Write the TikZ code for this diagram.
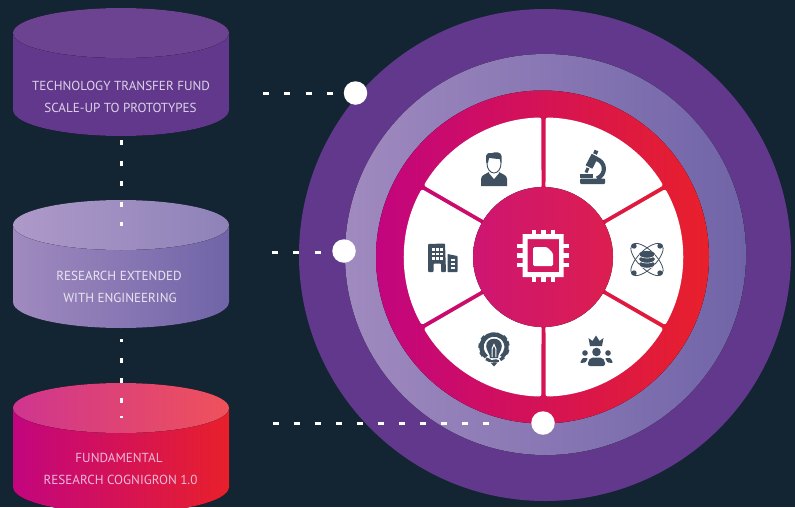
\documentclass[tikz,border=0pt]{standalone}
\usepackage{fontspec}
\setmainfont{PT Sans}
\definecolor{bg}{HTML}{132533}
\definecolor{iconc}{HTML}{3F5060}
\definecolor{purp}{HTML}{62388C}
\definecolor{purptop}{HTML}{6B4391}
\definecolor{lavL}{HTML}{A08ABF}
\definecolor{lavR}{HTML}{7064A8}
\definecolor{lavTL}{HTML}{AE99C9}
\definecolor{lavTR}{HTML}{8E82B8}
\definecolor{magL}{HTML}{C2057F}
\definecolor{magR}{HTML}{E8202B}
\definecolor{magTL}{HTML}{CF358F}
\definecolor{magTR}{HTML}{EF525A}
\definecolor{midL}{HTML}{CE1572}
\definecolor{midR}{HTML}{DC1E4F}
\tikzset{
  dashline/.style={white,line width=3pt,dash pattern=on 6pt off 15.3pt},
  vdash/.style={white,line width=3pt},
  dot/.style={circle,fill=white,minimum size=23.5pt,inner sep=0pt},
  label1/.style={font=\fontsize{13.1}{13.1}\selectfont,text=#1,inner sep=0pt,anchor=center},
  seg/.style={fill=white,rounded corners=2.2pt},
  icon/.style={fill=iconc,draw=none},
  iconw/.style={fill=white,draw=none},
  iconl/.style={draw=iconc,fill=none},
}
\newcommand{\cylinder}[6]{%
  \fill[left color=#4,right color=#5] (13,#1) -- (13,#1+#6) arc[start angle=180,end angle=0,x radius=108,y radius=26] -- (229,#1) -- cycle;
  \fill[left color=#2,right color=#3] (121,#1) ellipse[x radius=108,y radius=25];
}
\newcommand{\segment}[2]{%
  \fill[seg,shift={(543.5,257)}] (#1+1.65:69) -- (#1+0.85:139.5) arc[start angle=#1+0.85,end angle=#2-0.85,radius=139.5] -- (#2-1.65:69) -- cycle;
}
\begin{document}
\begin{tikzpicture}[x=1pt,y=-1pt]
\useasboundingbox (0,0) rectangle (795,507);
\fill[bg] (0,0) rectangle (795,507);
% cylinders
\begin{scope}
\clip (0,0) rectangle (795,507);
\cylinder{33}{purptop}{purptop}{purp}{purp}{77}
\cylinder{225}{lavTL}{lavTR}{lavL}{lavR}{77}
\cylinder{408}{magTL}{magTR}{magL}{magR}{79}
\end{scope}
\node[label1=white!78!purp] (t1a) at (121,86) {TECHNOLOGY TRANSFER FUND};
\node[label1=white!78!purp] (t1b) at (120.5,108) {SCALE-UP TO PROTOTYPES};
\node[label1=white!78!lavL] (t2a) at (119,276) {RESEARCH EXTENDED};
\node[label1=white!78!lavL] (t2b) at (120,298) {WITH ENGINEERING};
\node[label1=white!72!magL] (t3a) at (119,458) {FUNDAMENTAL};
\node[label1=white!72!magL] (t3b) at (120.5,480) {RESEARCH COGNIGRON 1.0};
% rings
\fill[purp] (545,255) circle[radius=246];
\fill[left color=lavL,right color=lavR] (545.5,254.5) circle[radius=200.5];
\fill[left color=magL,right color=magR] (542.5,257) circle[radius=166.5];
\segment{-30}{30}\segment{30}{90}\segment{90}{150}\segment{150}{210}\segment{210}{270}\segment{270}{330}
\fill[left color=midL,right color=midR] (543,257) circle[radius=70];
% chip
\fill[white,even odd rule] (522.5,234) rectangle (563.5,277) (527.5,239) rectangle (559,272);
\foreach \d in {-9.5,0,9.5}{
  \fill[white] (543.5+\d-2.2,229.5) rectangle (543.5+\d+2.2,234.5);
  \fill[white] (543.5+\d-2.2,276.5) rectangle (543.5+\d+2.2,282);
  \fill[white] (517,255.5+\d-2.2) rectangle (523.5,255.5+\d+2.2);
  \fill[white] (562.5,255.5+\d-2.2) rectangle (569,255.5+\d+2.2);
}
\fill[white,rounded corners=1.5pt] (533,247) -- (547,247) -- (553,253) -- (553,266) -- (533,266) -- cycle;
% person
\fill[icon] (481,186) -- (481,179) .. controls (481,175) and (486,174) .. (489,172) -- (499,172) .. controls (502,174) and (507,175) .. (507,179) -- (507,186) -- cycle;
\fill[iconw] (489,173) -- (494,179) -- (499,173) -- (497,168) -- (491,168) -- cycle;
\fill[iconw,draw=iconc,line width=0.9pt] (494,163.5) ellipse[x radius=7,y radius=9.5];
\fill[icon] (486.3,163) -- (486,156) .. controls (487,153) and (490,152) .. (492,153) .. controls (496,151.5) and (501,152) .. (501.5,156) -- (501.5,163) -- (500,159) .. controls (496,159) and (491,158) .. (489,158) -- (488,163) -- cycle;
% microscope
\fill[icon,rounded corners=1pt] (580,178.5) -- (605,178.5) -- (605,184) -- (580,184) -- cycle;
\fill[icon] (579.5,174) rectangle (593,177.5);
\draw[iconl,line width=4.2pt] (595,158.5) .. controls (606.5,161) and (606.5,175) .. (597,178.5);
\draw[iconl,line width=7.5pt] (595,155.5) -- (589,167);
\draw[iconl,line width=4pt] (596.5,150.5) -- (595,154);
\draw[iconl,line width=3pt] (588,168) -- (586,172.5);
% atom
\begin{scope}[shift={(647,259.5)}]
\foreach \a in {45,-45}
  \draw[iconl,line width=0.8pt,rotate=\a] (0,0) ellipse[x radius=21,y radius=9];
\foreach \sx in {-13,13}\foreach \sy in {-13.5,13.5}
  \fill[icon] (\sx,\sy) circle[radius=2.7];
\foreach \yy in {5,0,-5}{
  \fill[icon] (0,\yy) ellipse[x radius=8,y radius=3.6];
  \draw[white,line width=0.6pt] (-8,\yy) arc[start angle=180,end angle=0,x radius=8,y radius=3.6];
}
\end{scope}
% buildings
\fill[icon,rounded corners=0.8pt] (428,272) -- (428,244) -- (445,243.5) -- (446,272) -- (441,272) -- (441,263.5) -- (433.5,263.5) -- (433.5,272) -- cycle;
\foreach \c in {432,436,440}\foreach \r in {248,252.5,257}
  \fill[iconw] (\c-0.2,\r) rectangle (\c+2.6,\r+2.6);
\fill[icon,rounded corners=0.6pt] (447.5,272) -- (447.5,254) -- (457.5,256) -- (457.5,272) -- cycle;
\foreach \r in {259,263,267}
  \fill[iconw] (451,\r) rectangle (454.5,\r+2.2);
% gear bulb
\begin{scope}[shift={(494,347)}]
\draw[iconl,line width=4.4pt] (128:12.6) arc[start angle=128,end angle=412,radius=12.6];
\foreach \a in {140,175,210,245,275,305,340,15,40}
  \draw[iconl,line width=4.6pt,rotate=\a] (12.5,0) -- (15.6,0);
\fill[icon] (-4,11) .. controls (-4,6) and (-7.8,4) .. (-7.8,-1) .. controls (-7.8,-5.5) and (-4.2,-8.3) .. (0,-8.3) .. controls (4.2,-8.3) and (7.8,-5.5) .. (7.8,-1) .. controls (7.8,4) and (4,6) .. (4,11) -- cycle;
\draw[white,line width=1pt] (-1.8,10) -- (-2,2) -- (0,-2.5) -- (2,2) -- (1.8,10);
\fill[icon] (-5,12.5) rectangle (5,14.5);
\fill[icon] (-3.5,15.5) -- (3.5,15.5) -- (0,19.5) -- cycle;
\end{scope}
% crown and team
\fill[icon] (590,346) -- (588.5,338) -- (592.5,341) -- (596,335.5) -- (599.5,341) -- (603.5,338) -- (602,346) -- cycle;
\fill[icon] (596.5,352) circle[radius=4.3];
\fill[icon,rounded corners=2pt] (588,366) -- (588,361) -- (591,357.5) -- (602,357.5) -- (605,361) -- (605,366) -- cycle;
\fill[icon] (585,353) circle[radius=2.8];
\fill[icon] (608,353) circle[radius=2.8];
\fill[icon,rounded corners=1pt] (580,363) -- (582.5,358) -- (588,358) -- (585.5,362.5) -- cycle;
\fill[icon,rounded corners=1pt] (613,363) -- (610.5,358) -- (605,358) -- (607.5,362.5) -- cycle;
% connectors
\node[dot] (d1) at (355.5,93) {};
\node[dot] (d2) at (344,251) {};
\node[dot] (d3) at (543,423) {};
\coordinate (h1) at (263,93);
\coordinate (h2) at (272,252.5);
\coordinate (h2e) at (321.5,252.5);
\coordinate (h3) at (273,423);
\coordinate (h3e) at (492,423);
\draw[dashline] (h1) -- (d1.west);
\draw[dashline] (h2) -- (h2e);
\draw[dashline,dash pattern=on 6pt off 15pt] (h3) -- (h3e);
\coordinate (v1a) at (121,140);
\coordinate (v1b) at (121,225.5);
\coordinate (v2a) at (121,339);
\coordinate (v2b) at (121,418);
\draw[vdash,dash pattern=on 5pt off 15.6pt] (v1a) -- (v1b);
\draw[vdash,dash pattern=on 2.5pt off 16.5pt on 5pt off 15pt on 5pt off 15pt on 5pt off 13pt on 2.5pt off 5pt] (v2a) -- (v2b);
\end{tikzpicture}
\end{document}
